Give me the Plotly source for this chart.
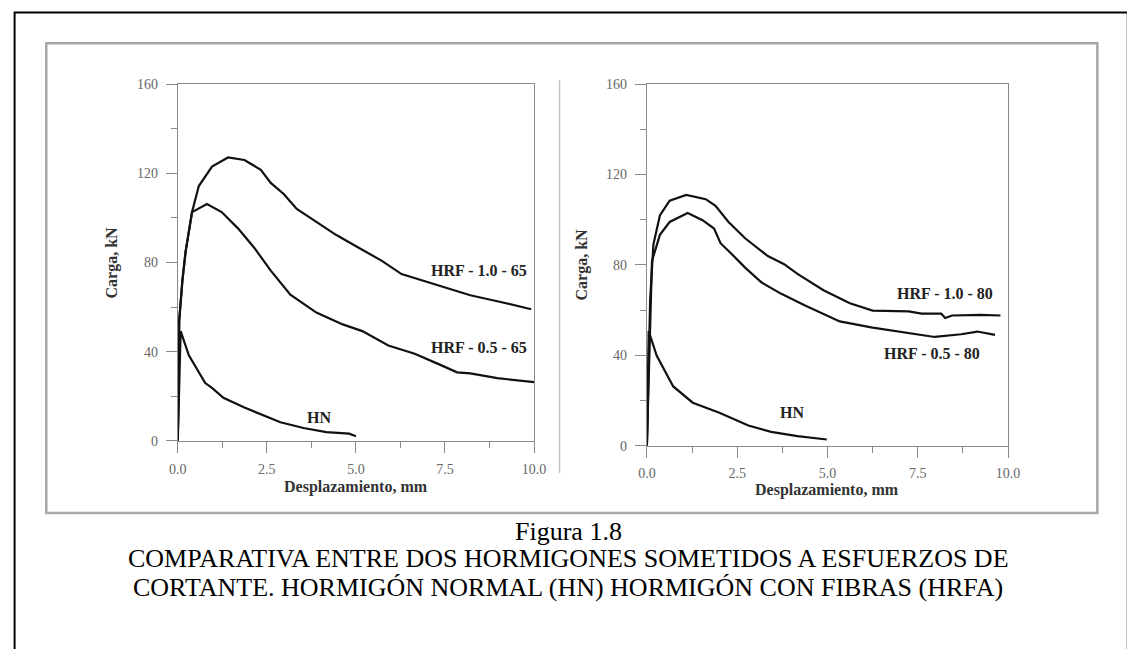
import plotly.graph_objects as go

W, H = 1127, 649

# ---------------- data ----------------
# Left panel (65)
hrf10_65_x = [0, 0.02, 0.04, 0.13, 0.22, 0.40, 0.59, 0.96, 1.41, 1.87, 2.33, 2.61, 2.98, 3.34, 3.89, 4.44, 5.09, 5.73, 6.28, 7.02, 8.21, 9.0, 9.92]
hrf10_65_y = [0, 30, 54, 72, 85, 102.6, 114.3, 123, 127.1, 126, 121.6, 115.7, 110.6, 104, 98.2, 92.4, 86.5, 80.7, 74.8, 71.2, 65.3, 62.5, 59]

hrf05_65_x = [0, 0.02, 0.04, 0.13, 0.22, 0.40, 0.82, 1.23, 1.69, 2.15, 2.61, 3.16, 3.89, 4.63, 5.18, 5.91, 6.65, 7.29, 7.84, 8.21, 8.97, 10.0]
hrf05_65_y = [0, 30, 54, 72, 85, 102.6, 106.2, 102.6, 95.3, 86.5, 76.3, 65.5, 57.5, 52.2, 49.2, 42.7, 39.0, 34.6, 30.7, 30.2, 28.1, 26.3]

hn_65_x = [0, 0.04, 0.08, 0.31, 0.77, 0.96, 1.28, 1.87, 2.33, 2.88, 3.53, 4.17, 4.81, 5.0]
hn_65_y = [0, 30, 49.2, 38.3, 25.9, 23.7, 19.3, 14.9, 12.0, 8.3, 5.7, 3.9, 3.2, 2.0]

# Right panel (80)
hrf10_80_x = [0, 0.05, 0.09, 0.18, 0.36, 0.63, 1.09, 1.63, 1.9, 2.26, 2.72, 3.35, 3.8, 4.17, 4.89, 5.62, 6.25, 7.25, 7.61, 8.15, 8.26, 8.45, 9.24, 9.79]
hrf10_80_y = [0, 35, 64.4, 89, 101.9, 108.4, 111, 109.1, 106.2, 99, 91.8, 83.9, 80.3, 76, 68.8, 63, 59.8, 59.4, 58.4, 58.4, 56.5, 57.6, 57.9, 57.6]

hrf05_80_x = [0, 0.06, 0.14, 0.36, 0.63, 1.13, 1.54, 1.86, 2.04, 2.36, 2.72, 3.17, 3.71, 4.35, 4.98, 5.34, 6.25, 7.16, 7.97, 8.7, 9.15, 9.64]
hrf05_80_y = [0, 35, 81.7, 93.3, 99, 103, 99.8, 96.1, 89.6, 84.6, 78.8, 72.3, 67.3, 62.3, 57.5, 55, 52.2, 50, 48.1, 49.3, 50.5, 49]

hn_80_x = [0, 0.03, 0.05, 0.27, 0.73, 1.27, 1.99, 2.81, 3.44, 4.17, 4.98]
hn_80_y = [0, 30, 50.7, 39.9, 26.2, 19, 14.7, 8.9, 6.1, 4.2, 2.7]

x_tickvals = [0, 2.5, 5, 7.5, 10]
x_ticktext = ["0.0", "2.5", "5.0", "7.5", "10.0"]
y_tickvals = [0, 40, 80, 120, 160]
y_ticktext = ["0", "40", "80", "120", "160"]

labels_left = ["HRF - 1.0 - 65", "HRF - 0.5 - 65", "HN"]
labels_left_x = [8.46, 8.46, 3.95]
labels_left_y = [76.6, 42.0, 10.5]
labels_right = ["HRF - 1.0 - 80", "HRF - 0.5 - 80", "HN"]
labels_right_x = [8.26, 7.89, 4.02]
labels_right_y = [67.3, 40.6, 14.7]

x_title = "Desplazamiento, mm"
y_title = "Carga, kN"
caption = ["Figura 1.8",
           "COMPARATIVA ENTRE DOS HORMIGONES SOMETIDOS A ESFUERZOS DE",
           "CORTANTE. HORMIGÓN NORMAL (HN) HORMIGÓN CON FIBRAS (HRFA)"]

# ---------------- figure ----------------
def px(x):
    return x / W

def py(y):
    return 1 - y / H

SERIF = "Liberation Serif, Times New Roman, serif"
LINE = dict(color="#111111", width=2.2)

fig = go.Figure()
for xs, ys in [(hrf10_65_x, hrf10_65_y), (hrf05_65_x, hrf05_65_y), (hn_65_x, hn_65_y)]:
    fig.add_trace(go.Scatter(x=xs, y=ys, mode="lines", line=LINE, xaxis="x", yaxis="y",
                             showlegend=False, hoverinfo="skip"))
for xs, ys in [(hrf10_80_x, hrf10_80_y), (hrf05_80_x, hrf05_80_y), (hn_80_x, hn_80_y)]:
    fig.add_trace(go.Scatter(x=xs, y=ys, mode="lines", line=LINE, xaxis="x2", yaxis="y2",
                             showlegend=False, hoverinfo="skip"))

tickfont = dict(family=SERIF, size=14, color="#666666")
axcol = "#8a8a8a"

def xax(domain, anchor):
    return dict(domain=domain, anchor=anchor, range=[0, 10], tickvals=x_tickvals, ticktext=x_ticktext,
                ticks="outside", ticklen=11, tickwidth=1, tickcolor=axcol,
                minor=dict(tickvals=[1.25, 3.75, 6.25, 8.75], ticks="outside", ticklen=6, tickcolor=axcol, tickwidth=1),
                showline=True, linecolor=axcol, linewidth=1, mirror=True,
                showgrid=False, zeroline=False, tickfont=tickfont, ticklabelstandoff=4, fixedrange=True)

def yax(domain, anchor):
    return dict(domain=domain, anchor=anchor, range=[0, 160], tickvals=y_tickvals, ticktext=y_ticktext,
                ticks="outside", ticklen=11, tickwidth=1, tickcolor=axcol,
                minor=dict(tickvals=[20, 60, 100, 140], ticks="outside", ticklen=6, tickcolor=axcol, tickwidth=1),
                showline=True, linecolor=axcol, linewidth=1, mirror=True,
                showgrid=False, zeroline=False, tickfont=tickfont, ticklabelstandoff=5, fixedrange=True)

fig.update_layout(
    width=W, height=H, margin=dict(l=0, r=0, t=0, b=0),
    paper_bgcolor="white", plot_bgcolor="white",
    xaxis=xax([px(172), px(535)], "y"),
    yaxis=yax([py(444), py(79)], "x"),
    xaxis2=xax([px(650), px(1018)], "y2"),
    yaxis2=yax([py(449), py(79)], "x2"),
    showlegend=False,
)

shapes = [
    # outer black border (only left/top visible)
    dict(type="rect", xref="paper", yref="paper", x0=px(5.7), x1=px(1140), y0=py(660), y1=py(5.7),
         line=dict(color="black", width=2), layer="below"),
    # gray figure frame
    dict(type="rect", xref="paper", yref="paper", x0=px(38), x1=px(1109), y0=py(518), y1=py(37),
         line=dict(color="#a8a8a8", width=2.5), layer="below"),
    # separator between panels
    dict(type="line", xref="paper", yref="paper", x0=px(561), x1=px(561), y0=py(477), y1=py(75),
         line=dict(color="#c4c4c4", width=1.5), layer="below"),
]
fig.update_layout(shapes=shapes)

ann = []
lblfont = dict(family=SERIF, size=16, color="#222222")
for t, x, y in zip(labels_left, labels_left_x, labels_left_y):
    ann.append(dict(text="<b>%s</b>" % t, x=x, y=y, xref="x", yref="y", showarrow=False, font=lblfont,
                    xanchor="center", yanchor="middle"))
for t, x, y in zip(labels_right, labels_right_x, labels_right_y):
    ann.append(dict(text="<b>%s</b>" % t, x=x, y=y, xref="x2", yref="y2", showarrow=False, font=lblfont,
                    xanchor="center", yanchor="middle"))

titlefont = dict(family=SERIF, size=16, color="#333333")
for t, x, y, ang in [(x_title, 353.5, 491, 0), (x_title, 834, 494, 0),
                     (y_title, 105, 261.5, -90), (y_title, 583.5, 264, -90)]:
    ann.append(dict(text="<b>%s</b>" % t, x=px(x), y=py(y), xref="paper", yref="paper",
                    showarrow=False, font=titlefont, textangle=ang, xanchor="center", yanchor="middle"))

capfont = dict(family=SERIF, size=26, color="black")
for t, y in zip(caption, [537, 565, 594]):
    ann.append(dict(text=t, x=px(570), y=py(y), xref="paper", yref="paper", showarrow=False, font=capfont,
                    xanchor="center", yanchor="middle"))

fig.update_layout(annotations=ann)
fig.write_html("out.html",
               config={"displayModeBar": False, "staticPlot": True},
               post_script="document.body.style.margin='0';document.body.style.overflow='hidden';")
